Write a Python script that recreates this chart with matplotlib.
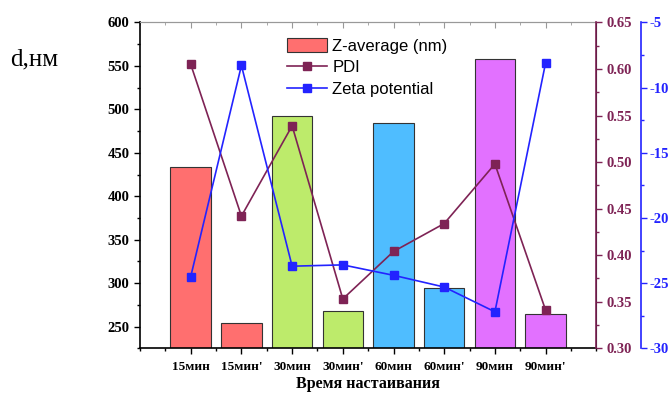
import numpy as np
import matplotlib.pyplot as plt
from matplotlib.ticker import MultipleLocator

# data
labels = ["15мин", "15мин'", "30мин", "30мин'", "60мин", "60мин'", "90мин", "90мин'"]
z_average = [434, 254, 492, 268, 484, 294, 558, 265]
pdi = [0.605, 0.442, 0.539, 0.353, 0.404, 0.434, 0.498, 0.341]
zeta = [-24.5, -8.3, -23.7, -23.6, -24.4, -25.3, -27.2, -8.1]
bar_colors = ["#FF6F6F", "#FF6F6F", "#BDEB6B", "#BDEB6B",
              "#4FBDFF", "#4FBDFF", "#E271FF", "#E271FF"]

pdi_color = "#7E2355"
zeta_color = "#2323FF"
serif = "Liberation Serif"
tick_fs = 9.5
ytick_fs = 10.5
plt.rcParams["axes.unicode_minus"] = False

fig = plt.figure(figsize=(6.7, 3.94), dpi=100)
ax = fig.add_axes([0.209, 0.116, 0.681, 0.827])
x = np.arange(1, len(labels) + 1)

bars = ax.bar(x, z_average, width=0.8, color=bar_colors, edgecolor="#333333",
              linewidth=0.8, label="Z-average (nm)", zorder=2)
ax.set_xlim(0, 9)
ax.set_ylim(225, 600)
ax.set_xticks(x)
ax.set_xticklabels(labels)
ax.xaxis.set_minor_locator(MultipleLocator(0.5))
ax.yaxis.set_major_locator(MultipleLocator(50))
ax.yaxis.set_minor_locator(MultipleLocator(25))
ax.tick_params(axis="x", which="major", direction="out", length=4, width=1, pad=5)
ax.tick_params(axis="x", which="minor", direction="out", length=2.5, width=1)
ax.tick_params(axis="y", which="major", direction="out", length=4, width=1)
ax.tick_params(axis="y", which="minor", direction="out", length=2.5, width=1)
for lab in ax.get_xticklabels():
    lab.set_family(serif)
    lab.set_fontweight("bold")
    lab.set_fontsize(tick_fs)
for lab in ax.get_yticklabels():
    lab.set_family(serif)
    lab.set_fontweight("bold")
    lab.set_fontsize(ytick_fs)
ax.set_xlabel("Время настаивания", family=serif, fontweight="bold",
              fontsize=11.5, labelpad=2)
ax.spines["top"].set_color("#999999")
ax.spines["left"].set_linewidth(1.2)
ax.spines["bottom"].set_linewidth(1.2)

# top gray ticks pointing inward
top = ax.secondary_xaxis("top")
top.set_xticks(x)
top.xaxis.set_minor_locator(MultipleLocator(0.5))
top.tick_params(which="major", direction="in", length=4, color="#999999", labeltop=False)
top.tick_params(which="minor", direction="in", length=2.5, color="#999999")
top.spines["top"].set_color("#999999")

fig.text(0.015, 0.848, "d,нм", family=serif, fontsize=18, va="center")

# PDI axis
ax2 = ax.twinx()
ax2.plot(x, pdi, color=pdi_color, marker="s", markersize=6, linewidth=1.2, label="PDI")
ax2.set_ylim(0.30, 0.65)
ax2.yaxis.set_major_locator(MultipleLocator(0.05))
ax2.yaxis.set_minor_locator(MultipleLocator(0.025))
ax2.yaxis.set_major_formatter(plt.FormatStrFormatter("%.2f"))
ax2.spines["right"].set_color(pdi_color)
ax2.spines["right"].set_linewidth(1.2)
ax2.tick_params(axis="y", which="major", colors=pdi_color, length=4, width=1)
ax2.tick_params(axis="y", which="minor", colors=pdi_color, length=2.5, width=1)
for lab in ax2.get_yticklabels():
    lab.set_family(serif)
    lab.set_fontweight("bold")
    lab.set_fontsize(ytick_fs)
for s in ["top", "left", "bottom"]:
    ax2.spines[s].set_visible(False)

# Zeta potential axis
ax3 = ax.twinx()
ax3.plot(x, zeta, color=zeta_color, marker="s", markersize=6, linewidth=1.2,
         label="Zeta potential")
ax3.set_ylim(-30, -5)
ax3.yaxis.set_major_locator(MultipleLocator(5))
ax3.yaxis.set_minor_locator(MultipleLocator(2.5))
ax3.yaxis.set_major_formatter(plt.FormatStrFormatter("%d"))
ax3.spines["right"].set_position(("outward", 32))
ax3.spines["right"].set_color(zeta_color)
ax3.spines["right"].set_linewidth(1.2)
ax3.tick_params(axis="y", which="major", colors=zeta_color, length=4, width=1, pad=2)
ax3.tick_params(axis="y", which="minor", colors=zeta_color, length=2.5, width=1)
for lab in ax3.get_yticklabels():
    lab.set_family(serif)
    lab.set_fontweight("bold")
    lab.set_fontsize(ytick_fs)
for s in ["top", "left", "bottom"]:
    ax3.spines[s].set_visible(False)

handles = [bars, ax2.get_lines()[0], ax3.get_lines()[0]]
ax3.legend(handles, [h.get_label() for h in handles], loc="upper left",
           bbox_to_anchor=(0.419, 0.92), bbox_transform=fig.transFigure,
           frameon=False, prop={"family": "Liberation Sans", "size": 12},
           handlelength=2.4, handleheight=0.9, handletextpad=0.3,
           labelspacing=0.35, borderaxespad=0)

fig.savefig("out.png", dpi=100)
